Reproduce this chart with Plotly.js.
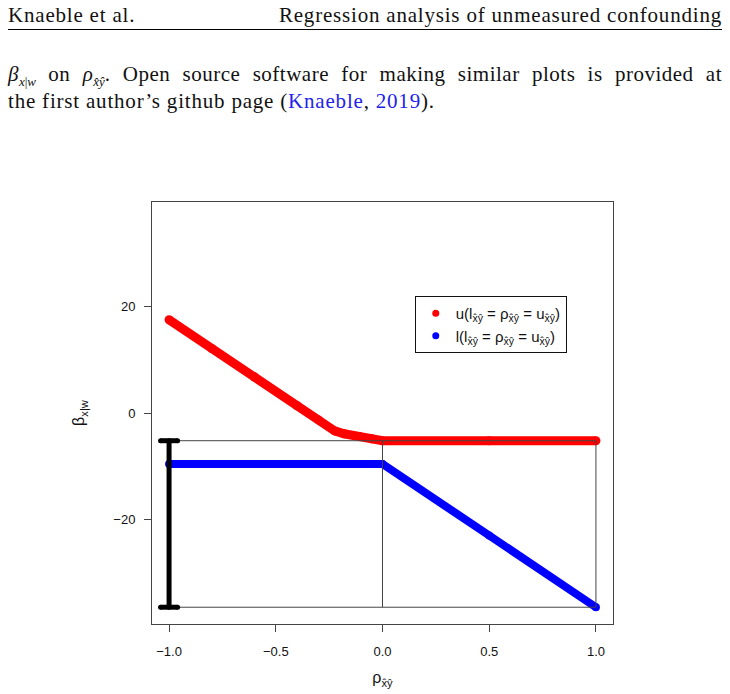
<!DOCTYPE html>
<html>
<head>
<meta charset="utf-8">
<script src="https://cdn.plot.ly/plotly-3.0.1.min.js"></script>
<style>
  html, body { margin: 0; padding: 0; background: #fff; }
  #page { position: relative; width: 730px; height: 694px; overflow: hidden; }
  #myDiv { position: absolute; left: 0; top: 0; width: 730px; height: 694px; }
  .txt { position: absolute; left: 8px; width: 714px; font-family: "Liberation Serif", serif; font-size: 21px; letter-spacing: 0.8px; color: #111; z-index: 2; line-height: 22px; }
  #head { top: 4px; display: flex; justify-content: space-between; border-bottom: 1px solid #000; padding-bottom: 3px; }
  #line1 { top: 63px; text-align: justify; text-align-last: justify; letter-spacing: 0.5px; }
  #line2 { top: 90px; }
  .cite { color: #2222ee; }
  sub { font-size: 13px; letter-spacing: 0; line-height: 0; }
</style>
</head>
<body>
<div id="page">
  <div id="myDiv"></div>
  <div class="txt" id="head"><span>Knaeble et al.</span><span>Regression analysis of unmeasured confounding</span></div>
  <div class="txt" id="line1"><i>β</i><sub><i>x</i>|<i>w</i></sub> on <i>ρ</i><sub><i>x̂ŷ</i></sub>. Open source software for making similar plots is provided at</div>
  <div class="txt" id="line2">the first author’s github page (<span class="cite">Knaeble</span>, <span class="cite">2019</span>).</div>
</div>
<script>
graphDiv = 'myDiv'

// values
var rho = [-1, -0.8, -0.6, -0.4, -0.3, -0.224, -0.18, -0.107, -0.05, 0, 0.5, 1]
var upperBeta = [17.5, 12.1, 6.75, 1.37, -1.3, -3.36, -3.9, -4.43, -4.85, -5.2, -5.2, -5.2]
var lowerBeta = [-9.55, -9.55, -9.55, -9.55, -9.55, -9.55, -9.55, -9.55, -9.55, -9.55, -23.0, -36.45]

var boundHigh = -5.2
var boundLow = -36.45
var rhoMin = -1
var rhoMid = 0
var rhoMax = 1
var capHalf = 0.04

var xTicks = [-1, -0.5, 0, 0.5, 1]
var xTickText = ['\u22121.0', '\u22120.5', '0.0', '0.5', '1.0']
var yTicks = [-20, 0, 20]
var yTickText = ['\u221220', '0', '20']

var sub = '<sub>x\u0302y\u0302</sub>'

var upperTrace = {
  x: rho, y: upperBeta, mode: 'lines+markers', type: 'scatter',
  line: { color: '#ff0000', width: 9 },
  marker: { color: '#ff0000', size: 9 },
  showlegend: false, hoverinfo: 'skip'
}

var lowerTrace = {
  x: rho, y: lowerBeta, mode: 'lines+markers', type: 'scatter',
  line: { color: '#0000ff', width: 8 },
  marker: { color: '#0000ff', size: 8 },
  showlegend: false, hoverinfo: 'skip'
}

// thin rectangle: top, bottom, and the two uprights
var frameTrace = {
  x: [rhoMin, rhoMax, null, rhoMin, rhoMax, null, rhoMid, rhoMid, null, rhoMax, rhoMax],
  y: [boundHigh, boundHigh, null, boundLow, boundLow, null, boundLow, boundHigh, null, boundLow, boundHigh],
  mode: 'lines', type: 'scatter',
  line: { color: '#444', width: 1 },
  showlegend: false, hoverinfo: 'skip'
}

// the black interval at rho = -1
var barTrace = {
  x: [rhoMin - capHalf, rhoMin + capHalf, null, rhoMin, rhoMin, null, rhoMin - capHalf, rhoMin + capHalf],
  y: [boundHigh, boundHigh, null, boundHigh, boundLow, null, boundLow, boundLow],
  mode: 'lines+markers', type: 'scatter',
  line: { color: '#000', width: 5 },
  marker: { color: '#000', size: 5 },
  showlegend: false, hoverinfo: 'skip'
}

var legendUpper = {
  x: [null], y: [null], mode: 'markers', type: 'scatter',
  marker: { color: '#ff0000', size: 7 },
  name: 'u(l' + sub + ' = \u03c1' + sub + ' = u' + sub + ')'
}
var legendLower = {
  x: [null], y: [null], mode: 'markers', type: 'scatter',
  marker: { color: '#0000ff', size: 7 },
  name: 'l(l' + sub + ' = \u03c1' + sub + ' = u' + sub + ')'
}

var data = [upperTrace, lowerTrace, frameTrace, barTrace, legendUpper, legendLower]

var layout = {
  width: 730, height: 694,
  margin: { l: 152, r: 117, t: 202, b: 70 },
  paper_bgcolor: '#fff', plot_bgcolor: '#fff',
  font: { family: 'Liberation Sans, Arial, sans-serif', color: '#111', size: 13 },
  showlegend: true,
  legend: {
    x: 0.570, y: 0.777, xanchor: 'left', yanchor: 'top',
    bgcolor: '#fff', bordercolor: '#111', borderwidth: 1,
    font: { size: 15 }, tracegroupgap: 0
  },
  xaxis: {
    range: [-1.08, 1.08], tickvals: xTicks, ticktext: xTickText,
    ticks: 'outside', ticklen: 7, tickcolor: '#444', ticklabelstandoff: 8,
    showline: true, mirror: true, linecolor: '#444', linewidth: 1,
    showgrid: false, zeroline: false,
    title: { text: '\u03c1' + sub, font: { size: 16 }, standoff: 14 }
  },
  yaxis: {
    range: [-39.6, 39.6], tickvals: yTicks, ticktext: yTickText,
    ticks: 'outside', ticklen: 7, tickcolor: '#444', ticklabelstandoff: 6,
    showline: true, mirror: true, linecolor: '#444', linewidth: 1,
    showgrid: false, zeroline: false,
    title: { text: '\u03b2<sub>x|w</sub>', font: { size: 16 }, standoff: 24 }
  }
}

Plotly.newPlot(graphDiv, data, layout, { staticPlot: true });
</script>
</body>
</html>
